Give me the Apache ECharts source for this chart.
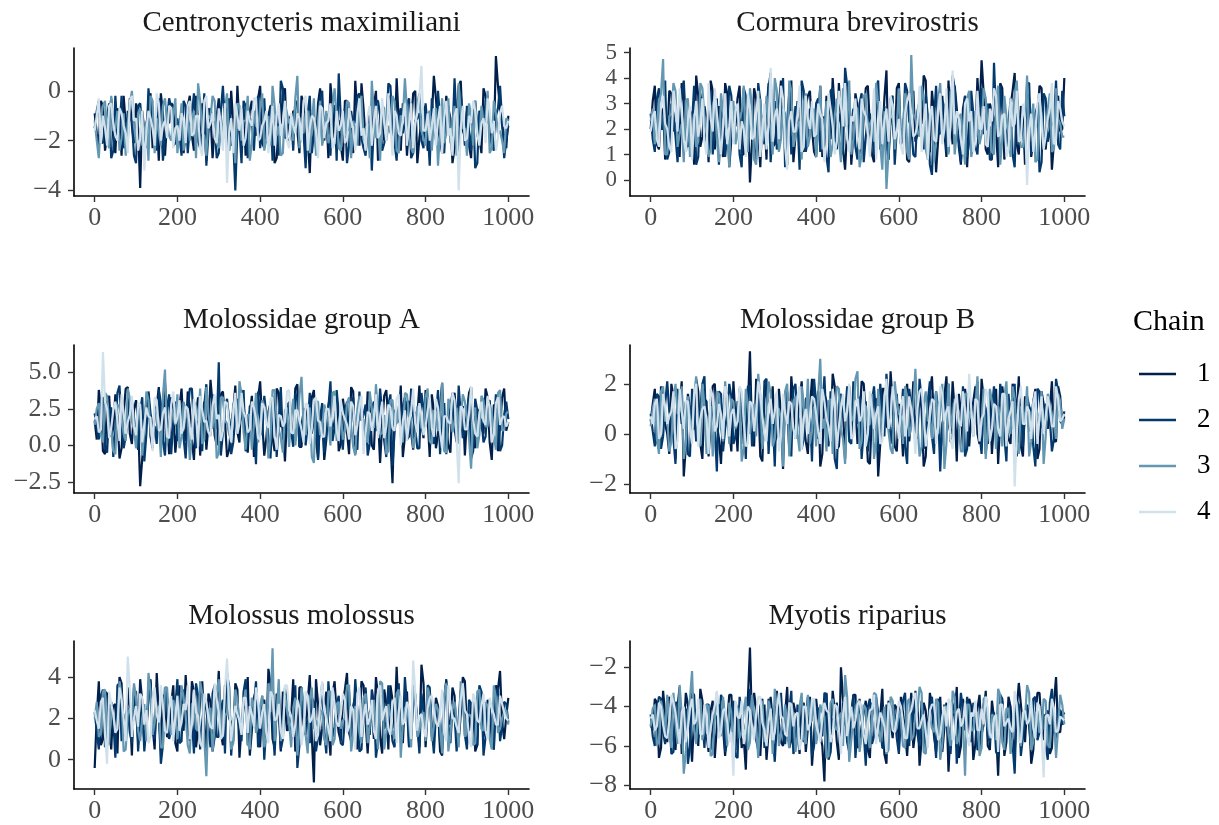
<!DOCTYPE html>
<html>
<head>
<meta charset="utf-8">
<script src="https://cdn.jsdelivr.net/npm/echarts@6/dist/echarts.min.js"></script>
<style>
  html, body { margin: 0; padding: 0; background: #ffffff; }
  #chart { width: 1219px; height: 825px; }
</style>
</head>
<body>
<div id="chart"></div>
<script>
// MCMC trace draws thinned to every 5th iteration.
// Arrays named <species><chain> hold iterations 0, 10, ..., 1000;
// arrays with a trailing "b" hold the iterations in between (5, 15, ..., 995).
const iterStep = 10;
const chainNames = ['1', '2', '3', '4'];
const xTicks = [0, 200, 400, 600, 800, 1000];

const speciesNames = [
  'Centronycteris maximiliani', 'Cormura brevirostris',
  'Molossidae group A', 'Molossidae group B',
  'Molossus molossus', 'Myotis riparius'
];

const yTicksCentronycteris = [-4, -2, 0];
const yTicksCormura = [0, 1, 2, 3, 4, 5];
const yTicksMolossidaeA = [-2.5, 0, 2.5, 5];
const yTicksMolossidaeB = [-2, 0, 2];
const yTicksMolossus = [0, 2, 4];
const yTicksMyotis = [-8, -6, -4, -2];

// Centronycteris maximiliani
const centronycteris1 = [
  -0.9,-2.2,-0.6,-1.8,-0.3,-2.5,-1.1,-0.2,-2.0,-1.4,-0.5,-3.9,-1.6,-0.4,-2.3,-1.0,-0.1,-2.6,-1.3,-0.6,
  -2.1,-0.8,-1.7,-0.2,-2.4,-1.2,-0.5,-2.8,-0.9,-1.5,-0.3,-2.0,-1.1,0.0,-2.6,-1.4,-0.7,-2.2,-0.4,-1.8,
  0.2,-2.3,-1.0,-0.6,-2.7,-1.3,0.1,-2.0,-0.8,-1.6,-0.2,-2.5,-3.3,-1.1,-0.5,-2.1,-0.9,0.3,-1.9,-1.2,
  -2.8,-0.4,-1.5,0.4,-2.2,-0.7,-1.3,-2.6,0.0,-1.0,-2.0,-0.3,-1.7,0.5,-2.4,-0.9,-1.4,-0.1,-2.9,-1.2,
  -0.6,-2.1,0.6,-1.5,-2.5,-0.2,-1.1,-2.3,0.2,-1.6,-0.8,-2.7,-0.4,-1.9,0.1,-1.3,-2.2,1.4,-0.7,-1.8,-1.0
];
const centronycteris1b = [
  -1.7,-0.4,-2.4,-1.0,-1.9,-0.7,-2.6,-1.3,-0.3,-2.1,-1.5,-0.8,-2.3,-0.1,-1.6,-2.8,-0.9,-1.2,-0.5,-2.0,
  -1.4,-2.5,-0.6,-1.8,-0.2,-2.2,-1.1,-0.7,-2.7,-1.0,-1.6,-0.4,-2.4,-1.3,0.2,-1.9,-2.6,-0.8,-1.5,-0.3,
  -2.1,-1.2,-0.6,-2.9,-1.4,-0.1,-2.0,-1.7,-0.9,-2.5,-0.5,-1.8,-1.0,-2.3,0.1,-1.5,-2.7,-0.7,-1.1,-2.2,
  -0.4,-1.6,-2.5,-0.9,0.3,-2.0,-1.3,-0.6,-2.8,-1.0,-1.7,-0.2,-2.3,-1.2,-0.5,-2.6,-1.4,0.0,-1.9,-0.8,
  -2.4,-1.1,-0.3,-2.0,-1.6,-0.7,-2.9,-1.3,0.4,-1.8,-2.2,-0.6,-1.5,-2.5,-0.2,-1.0,-2.1,0.2,-1.4,-2.3
];
const centronycteris2 = [
  -1.5,-0.4,-2.1,-1.0,-2.7,-0.2,-1.6,-2.3,-0.8,-1.2,-2.9,-0.5,-1.8,0.1,-1.4,-2.4,-0.9,-1.9,-0.3,-2.2,
  -1.1,-2.6,-0.6,-1.4,-0.1,-2.0,-1.7,-3.0,-0.7,-1.3,-2.5,0.2,-1.0,-2.2,-4.0,-1.5,-0.4,-2.7,-1.2,-0.8,
  -2.3,-0.3,-1.6,-2.8,-0.9,0.4,-1.9,-1.1,-2.4,-0.5,-1.4,-3.1,-0.2,-1.7,-2.0,0.0,-1.3,-2.6,-0.6,0.7,
  -1.8,-2.9,-0.8,-1.2,-0.1,-2.3,-1.5,-3.2,-0.4,-1.0,-2.1,0.3,-1.6,-2.8,-0.7,-1.3,-0.3,-2.5,-1.1,-2.0,
  -0.5,-3.0,-1.4,0.0,-2.2,-0.9,-1.7,0.5,-2.6,-1.2,-0.6,-2.4,-3.1,-0.8,-1.5,-0.2,-2.1,-1.0,0.2,-2.7,-1.4
];
const centronycteris2b = [
  -0.8,-2.0,-1.3,-0.5,-2.4,-1.7,-0.2,-1.9,-1.1,-2.6,-0.6,-1.4,-2.2,-0.9,-1.6,-0.3,-2.8,-1.2,-0.7,-2.1,
  -1.8,-0.4,-2.5,-1.0,-1.5,-2.3,-0.1,-1.7,-1.2,-2.7,-0.8,-1.4,-0.3,-2.0,-1.6,-2.9,-0.6,-1.1,-2.4,-0.2,
  -1.5,-2.1,-0.7,-1.3,-2.6,0.1,-1.8,-1.0,-0.4,-2.3,-1.7,-0.9,-2.5,-1.2,-0.3,-2.0,-1.5,-0.6,-2.8,-1.1,
  -0.7,-2.2,-1.4,-0.2,-1.9,-2.6,-0.8,-1.3,-0.4,-2.4,-1.6,0.2,-2.1,-1.0,-1.7,-0.5,-2.7,-1.2,-0.9,-2.3,
  -1.5,-0.3,-2.0,-1.1,-2.5,-0.6,-1.8,-1.3,-0.1,-2.2,-1.6,-0.8,-2.9,-1.0,-0.4,-1.9,-2.4,-0.7,-1.2,-2.0
];
const centronycteris3 = [
  -1.2,-2.7,-0.6,-1.9,-0.2,-1.5,-2.4,-0.9,-1.3,0.0,-2.1,-0.7,-1.6,-2.8,-0.4,-1.1,-2.2,-0.3,-1.8,-1.0,
  -2.5,-0.5,-1.4,-2.0,-0.8,0.3,-1.7,-2.6,-1.1,-0.4,-2.3,-1.5,-0.1,-1.9,-2.9,-0.6,-1.2,-0.2,-2.1,-1.4,
  -0.7,-2.4,-1.0,0.2,-1.8,-2.6,-0.5,-1.3,-2.0,0.6,-1.6,-0.9,-2.5,-0.3,-1.2,-2.2,-0.8,-1.7,0.1,-2.3,
  -1.1,-0.4,-2.7,-1.5,-0.6,-2.0,-1.3,0.4,-1.9,-2.8,-0.7,-1.4,-0.2,-2.4,-1.0,0.5,-1.8,-2.5,-0.5,-1.6,
  -2.2,-0.8,-1.2,-3.0,-0.3,-1.7,-2.1,-0.6,0.3,-1.5,-2.6,-1.0,-0.4,-2.0,-1.3,0.0,-2.3,-0.9,-1.6,-2.5,-1.2
];
const centronycteris3b = [
  -2.0,-1.1,-0.4,-2.3,-1.6,-0.8,-1.9,-2.6,-0.5,-1.4,-0.9,-2.2,-1.2,-0.2,-2.5,-1.7,-0.6,-1.3,-2.0,-0.3,
  -1.5,-2.4,-0.9,-1.1,-2.7,-0.4,-1.8,-1.0,-0.2,-2.1,-1.3,-0.7,-2.4,-1.6,-0.5,-2.0,-1.2,-2.8,-0.8,-1.5,
  -0.1,-1.9,-2.2,-0.6,-1.4,-2.5,-0.9,-1.1,-0.3,-2.3,-1.7,-0.8,-1.3,-2.6,-0.4,-1.6,-2.1,-0.7,-1.0,-2.4,
  -1.8,-0.5,-1.2,-2.2,-0.2,-1.5,-2.7,-0.9,-1.3,-0.6,-2.0,-1.7,-0.4,-2.5,-1.1,-0.8,-2.3,-1.4,-0.1,-1.9,
  -1.0,-2.4,-0.7,-1.6,-2.1,-0.3,-1.3,-2.6,-0.9,-1.5,-0.5,-2.2,-1.8,-0.6,-1.2,-2.5,-0.4,-1.7,-2.0,-1.1
];
const centronycteris4 = [
  -1.6,-0.3,-1.0,-2.2,-0.5,-1.8,-0.7,-1.4,-2.5,-0.2,-1.1,-1.9,-3.2,-0.8,-1.5,-0.1,-2.0,-1.2,-0.6,-2.3,
  -1.4,-0.9,-2.1,-0.4,-1.7,-1.0,-2.6,-0.2,-1.3,-1.9,-0.7,-2.4,-3.7,-1.1,-0.5,-1.6,-2.2,-0.8,-1.4,-0.3,
  -1.9,-1.2,-2.5,-0.6,-1.0,-1.8,-0.4,-2.3,-1.4,-0.9,-2.0,-0.2,-1.5,-1.1,-2.7,-0.7,-1.3,-0.5,-2.1,-1.6,
  -0.8,-1.9,-1.2,-2.4,-0.3,-1.5,-1.0,-2.2,-0.6,-1.7,-1.3,-0.1,-2.6,-1.0,-1.8,-0.5,-1.4,-2.3,-0.9,1.0,
  -1.6,-2.0,-0.7,-1.2,-2.5,-0.4,-1.5,-1.0,-4.0,-0.6,-1.9,-1.3,-0.8,-2.2,-1.1,-0.3,-1.7,-2.4,-0.9,-1.4,-1.2
];
const centronycteris4b = [
  -1.0,-2.1,-1.5,-0.6,-1.3,-2.0,-0.9,-1.7,-0.4,-1.2,-2.4,-0.8,-1.6,-1.1,-2.2,-0.5,-1.4,-1.9,-0.7,-1.5,
  -2.0,-1.2,-0.6,-1.8,-1.0,-2.3,-0.4,-1.5,-0.9,-2.1,-1.3,-0.5,-1.7,-2.5,-1.0,-0.7,-1.9,-1.2,-0.3,-2.0,
  -1.4,-0.8,-1.6,-2.2,-0.5,-1.3,-2.0,-0.9,-1.7,-1.1,-0.4,-2.4,-1.0,-1.6,-0.6,-1.9,-1.2,-2.3,-0.8,-1.4,
  -2.1,-0.7,-1.5,-0.9,-1.8,-2.4,-0.6,-1.2,-1.9,-0.3,-2.0,-1.4,-0.8,-1.7,-1.1,-2.2,-0.5,-1.3,-0.2,-1.6,
  -0.9,-1.4,-2.2,-0.6,-1.1,-1.8,-2.6,-0.7,-1.5,-2.0,-1.0,-0.4,-1.7,-1.3,-2.1,-0.8,-1.2,-1.9,-0.6,-1.5
];

// Cormura brevirostris
const cormura1 = [
  2.0,3.7,1.2,2.8,1.5,3.4,2.2,0.9,3.1,1.8,2.6,4.1,1.3,2.9,0.7,3.5,2.1,1.6,3.8,0.5,
  2.4,3.2,1.0,2.7,-0.1,3.6,1.9,2.5,0.8,4.2,1.4,3.0,2.2,0.6,3.9,1.7,2.8,1.1,3.3,2.0,
  0.9,3.7,1.5,2.6,4.0,1.2,2.3,0.4,3.4,1.8,2.9,1.0,3.6,2.1,0.7,3.1,1.6,4.3,2.4,1.3,
  3.8,2.0,0.8,3.2,1.5,2.7,4.1,1.1,3.5,0.3,2.5,1.9,3.9,1.4,2.8,0.6,3.3,2.2,1.7,4.0,
  4.7,1.2,3.0,2.4,0.5,3.6,1.8,2.9,4.2,1.0,2.6,3.4,0.9,2.1,3.7,1.5,2.3,0.4,3.1,1.9,4.0
];
const cormura1b = [
  3.1,1.4,2.6,0.8,3.5,1.9,2.3,3.8,1.1,2.7,0.6,3.3,1.7,2.4,3.9,1.2,2.9,0.9,3.4,1.6,
  2.1,3.7,1.0,2.8,1.5,3.2,0.5,2.5,3.6,1.3,2.2,3.9,1.8,2.6,0.7,3.1,1.4,2.9,3.5,1.1,
  2.4,0.9,3.3,1.6,2.7,3.8,1.2,2.0,0.6,3.4,1.9,2.5,3.7,1.0,2.8,1.5,3.2,0.8,2.3,3.6,
  1.4,2.9,0.7,3.5,1.8,2.2,3.9,1.1,2.6,1.6,3.3,0.9,2.4,3.7,1.3,2.8,0.5,3.1,1.7,2.5,
  3.4,1.0,2.7,1.9,3.8,0.8,2.2,3.5,1.4,2.9,0.6,3.2,1.8,2.4,3.6,1.2,2.7,1.5,3.3,2.0
];
const cormura2 = [
  2.6,1.1,3.6,2.0,0.8,3.0,1.7,2.5,3.9,1.3,2.2,0.6,3.4,1.9,2.7,1.0,3.2,2.4,0.9,3.7,
  1.5,2.8,0.5,3.3,2.1,1.2,3.8,1.8,2.6,0.7,3.1,1.4,4.0,2.3,1.0,2.9,0.4,3.5,1.6,2.4,
  3.0,1.1,2.5,0.3,3.6,1.9,2.2,4.4,1.3,2.8,0.8,3.4,1.7,2.6,1.0,3.9,2.0,1.4,3.2,0.6,
  2.7,1.6,3.5,2.1,0.9,3.1,1.2,2.5,0.2,3.7,1.8,2.9,1.1,4.1,2.3,0.7,3.3,1.5,2.6,1.0,
  3.6,2.0,0.8,4.6,1.7,2.8,1.3,3.2,0.5,2.4,1.9,3.8,1.0,2.6,0.3,3.4,1.5,2.2,3.9,1.2,2.5
];
const cormura2b = [
  1.6,3.2,2.0,3.9,1.1,2.6,0.7,3.4,2.2,1.5,3.7,0.9,2.8,1.3,3.5,2.1,0.6,2.9,1.8,3.3,
  2.5,1.0,3.6,1.7,2.3,0.8,3.1,1.4,3.8,2.0,1.2,2.7,0.5,3.4,1.9,2.4,3.9,1.1,2.8,1.6,
  3.2,2.2,0.9,3.5,1.5,2.6,1.0,3.7,2.1,1.3,3.0,0.7,2.5,1.8,3.6,1.2,2.9,0.8,3.3,2.0,
  1.4,3.8,2.3,1.0,2.7,1.7,3.4,0.6,2.4,1.9,3.1,1.1,2.8,3.6,1.5,2.2,0.9,3.5,1.3,2.6,
  1.8,3.0,0.8,2.5,3.7,1.6,2.1,1.0,3.3,2.4,1.2,3.8,1.7,2.9,0.7,3.2,1.9,2.3,1.4,3.5
];
const cormura3 = [
  2.3,1.4,3.0,4.75,1.0,2.6,3.5,1.8,0.7,3.2,2.0,1.3,3.8,2.5,0.9,2.9,1.6,3.4,2.2,0.5,
  3.1,1.9,2.7,1.2,3.6,0.8,2.4,1.5,3.3,2.0,4.0,1.1,2.8,0.6,3.5,1.7,2.3,3.0,1.3,2.6,
  0.9,3.7,1.8,2.5,1.4,3.2,0.7,2.1,3.9,1.6,2.8,1.0,3.4,2.2,1.5,3.0,0.4,-0.35,2.6,1.2,
  3.6,2.0,1.1,4.9,2.4,1.7,3.1,0.8,2.9,1.5,3.8,2.2,1.0,3.3,1.9,2.6,0.6,3.5,1.4,2.7,
  1.8,3.2,2.1,1.0,3.7,1.6,2.5,0.9,3.4,2.0,1.3,4.1,2.4,0.7,3.0,1.5,2.8,1.1,3.6,2.2,1.7
];
const cormura3b = [
  2.8,1.7,3.4,1.0,2.5,3.8,1.3,2.2,3.1,0.9,2.6,1.5,3.6,2.0,1.2,3.3,0.7,2.7,1.8,3.0,
  1.4,2.4,3.7,1.1,2.9,0.6,3.2,1.9,2.3,1.0,3.5,1.6,2.6,3.9,1.3,2.1,0.8,3.4,1.7,2.8,
  2.0,1.2,3.1,0.9,2.5,1.6,3.6,2.2,1.0,2.9,0.5,3.3,1.8,2.4,3.8,1.4,2.7,1.1,3.0,2.1,
  1.5,3.4,0.8,2.6,1.9,3.7,1.2,2.3,0.7,3.1,1.7,2.8,3.5,1.0,2.4,1.6,3.2,0.9,2.7,1.4,
  3.6,2.0,1.1,2.9,0.6,3.3,1.8,2.5,3.9,1.3,2.2,1.5,3.0,0.8,2.6,1.9,3.4,1.2,2.4,1.7
];
const cormura4 = [
  1.9,2.7,1.3,3.3,2.0,1.1,2.9,3.6,1.6,2.4,0.8,3.1,2.2,1.5,3.8,1.9,2.6,1.0,3.4,2.1,
  1.4,3.0,2.3,0.9,2.8,1.7,3.5,2.0,1.2,4.4,2.5,1.6,3.2,0.4,2.7,1.9,3.7,1.3,2.4,3.1,
  1.8,2.6,0.7,3.4,2.1,1.5,2.9,3.8,1.1,2.3,1.7,3.2,2.5,0.9,3.6,2.0,1.4,2.8,3.3,1.6,
  2.4,1.0,3.1,2.6,1.8,3.7,2.2,0.8,2.9,1.5,3.4,2.0,1.3,4.3,2.7,1.6,3.0,2.3,1.1,3.5,
  2.0,1.4,2.8,3.6,1.7,2.5,0.9,3.2,2.2,1.5,3.0,-0.2,2.6,1.9,3.4,1.2,2.4,3.8,1.6,2.8,2.1
];
const cormura4b = [
  2.5,1.6,3.0,2.2,1.3,3.5,1.9,2.6,1.1,2.9,2.3,1.7,3.2,1.0,2.4,3.6,1.8,2.1,1.4,3.1,
  2.7,1.2,2.0,3.4,1.6,2.5,0.9,3.0,2.2,1.5,2.8,3.7,1.3,2.3,1.9,2.6,1.1,3.3,2.0,1.7,
  3.0,2.4,1.4,2.8,1.0,3.5,2.1,1.6,2.5,3.2,1.2,2.7,1.8,2.2,0.8,3.1,2.3,1.5,2.9,1.9,
  1.3,2.6,3.4,1.7,2.2,1.1,3.0,2.5,1.6,2.8,1.4,3.6,2.1,1.8,2.4,1.0,3.2,2.7,1.5,2.0,
  2.9,1.3,2.3,3.3,1.8,2.6,1.2,2.1,3.5,1.6,2.4,2.0,1.1,3.0,2.2,1.7,2.8,1.4,3.1,2.3
];

// Molossidae group A
const molossidaeA1 = [
  1.7,3.8,-0.4,2.9,0.6,3.5,-0.9,2.2,4.0,0.1,3.1,-2.8,1.4,3.6,-0.2,2.7,0.9,4.3,-0.6,2.4,
  1.1,3.9,0.3,2.6,-1.0,3.3,1.8,-0.3,4.5,0.7,2.0,3.7,-0.8,1.5,4.1,0.2,2.8,-0.5,3.4,1.0,
  4.4,-0.7,2.3,0.5,3.9,1.3,-1.1,3.0,0.8,4.2,-0.1,2.5,1.6,3.8,-0.9,2.1,0.4,3.5,1.2,-0.4,
  3.2,0.9,4.0,-0.6,2.6,1.4,3.7,0.0,2.9,-1.2,3.4,1.7,-2.6,2.3,4.1,0.6,3.0,-0.3,2.0,1.5,
  3.8,-0.8,2.4,0.7,4.3,1.1,-0.5,3.6,0.3,2.7,1.9,4.0,-0.2,2.2,0.8,3.3,-1.0,2.5,1.3,3.9,1.6
];
const molossidaeA1b = [
  0.4,2.7,-0.6,3.4,1.2,2.0,-0.2,3.9,0.8,2.5,1.5,-0.9,3.1,0.6,2.3,4.0,0.2,1.8,3.3,-0.5,
  2.6,1.0,3.7,0.3,2.1,-0.7,3.0,1.4,2.8,0.0,3.5,1.7,-0.3,2.4,0.9,3.8,1.1,2.2,-0.8,3.2,
  1.6,0.5,2.9,-0.4,3.6,1.3,2.0,0.7,3.9,-0.1,2.5,1.0,3.3,0.4,1.9,-1.0,2.7,1.5,3.4,0.1,
  2.2,-0.6,3.7,1.1,2.6,0.6,3.1,-0.3,2.0,1.4,3.8,0.3,2.4,1.7,-0.8,3.0,0.9,2.3,4.1,0.5,
  1.8,3.5,-0.2,2.7,1.2,0.0,3.2,1.6,2.1,-0.7,3.6,0.8,2.5,1.3,3.9,0.2,2.8,-0.4,3.3,1.0
];
const molossidaeA2 = [
  2.2,0.4,3.3,-0.5,2.6,1.0,4.1,-0.2,1.8,3.0,0.6,2.4,-1.1,3.7,1.3,0.1,2.9,-0.7,3.5,1.6,
  0.3,2.8,-0.9,3.9,1.2,2.1,-0.4,4.2,0.7,2.5,5.7,0.9,3.2,-0.6,2.0,1.5,3.8,0.2,2.7,-1.3,
  1.9,3.4,0.5,2.3,-0.8,4.0,1.1,2.6,-0.1,3.1,1.4,0.0,3.6,1.8,-1.0,2.9,0.8,4.4,1.2,2.2,
  -0.3,3.0,1.6,0.4,3.7,2.1,-0.7,2.5,1.0,3.9,0.3,2.8,-1.4,2.4,1.7,3.3,0.6,2.0,-0.2,3.6,
  1.3,2.7,0.1,3.8,1.9,-0.6,2.6,1.1,4.1,0.5,2.3,-0.9,3.2,1.5,0.2,2.9,1.0,3.5,-0.4,2.1,1.8
];
const molossidaeA2b = [
  1.1,3.1,0.0,2.4,-0.8,3.6,1.5,0.6,2.9,1.9,-0.3,3.3,0.8,2.2,1.3,3.8,0.3,2.6,-0.6,3.0,
  1.7,0.5,2.3,3.9,-0.2,1.4,2.8,0.9,3.5,1.1,-0.7,2.5,1.8,0.2,3.2,2.0,-0.4,2.7,1.2,3.7,
  0.7,2.1,-0.9,3.4,1.6,0.4,2.9,1.0,3.6,-0.1,2.3,1.4,0.8,3.1,1.9,-0.5,2.6,0.3,3.8,1.2,
  2.4,0.6,3.3,-0.3,1.7,2.8,0.1,3.0,1.3,2.2,-0.8,3.5,0.9,1.6,2.7,0.4,3.9,1.1,-0.2,2.5,
  3.2,0.8,1.9,-0.6,2.9,1.5,3.6,0.2,2.1,1.0,3.4,-0.4,2.4,1.8,0.6,3.1,1.2,2.6,0.0,3.0
];
const molossidaeA3 = [
  1.4,2.9,0.2,3.4,1.1,-0.6,2.7,0.8,3.9,1.6,-0.2,2.3,1.0,3.1,0.4,2.6,-0.8,5.2,1.3,2.0,
  3.5,0.6,2.4,-1.0,3.0,1.7,0.1,4.0,1.2,2.8,-0.5,3.3,1.5,0.3,2.5,4.4,0.9,2.1,-0.3,3.6,
  1.0,2.7,-0.9,3.8,1.9,0.5,2.4,-0.1,3.2,1.4,4.7,0.7,2.6,-1.2,3.0,1.1,2.2,0.0,3.7,1.6,
  0.4,2.9,1.3,-0.7,3.4,1.8,0.2,2.5,4.2,0.8,2.1,-0.4,3.1,1.5,0.6,3.6,2.0,-0.2,2.7,1.2,
  3.3,0.3,2.4,1.0,4.3,-0.5,2.8,1.6,0.1,3.5,1.9,-1.6,2.6,0.7,3.1,1.3,2.2,-0.3,3.8,1.1,2.3
];
const molossidaeA3b = [
  2.5,0.7,3.6,1.3,-0.4,2.8,1.9,0.3,3.2,1.1,2.4,-0.7,3.7,0.9,2.0,1.6,3.4,0.1,2.6,1.4,
  -0.2,3.0,1.8,0.6,2.7,3.9,0.4,2.2,1.2,-0.9,3.3,1.7,0.8,2.9,1.0,3.5,-0.3,2.1,1.5,0.2,
  3.1,2.3,0.5,3.8,1.1,-0.5,2.6,1.9,0.0,3.4,1.3,2.0,-0.8,3.0,0.7,2.8,1.6,3.6,0.3,2.2,
  1.0,3.3,-0.1,2.5,1.8,0.4,3.7,1.2,2.1,0.8,-0.6,3.1,1.5,2.7,0.2,3.5,1.9,0.6,2.4,1.1,
  3.9,0.1,2.3,1.4,-0.4,3.2,0.9,2.6,1.7,3.0,0.5,2.0,-0.2,3.4,1.3,2.8,0.7,3.6,1.0,2.2
];
const molossidaeA4 = [
  1.8,0.9,6.4,2.5,1.2,3.0,0.3,2.2,1.6,3.4,0.7,2.8,1.4,2.0,-0.4,3.1,1.1,2.6,0.5,3.7,
  1.9,0.8,2.7,1.3,3.2,-0.1,2.4,1.7,0.6,3.5,2.1,1.0,2.9,0.2,3.6,1.5,2.3,0.9,3.0,1.8,
  0.4,2.6,1.2,3.3,-0.3,2.0,1.6,3.8,0.8,2.4,1.1,2.9,0.1,3.1,1.7,0.6,2.5,1.3,3.4,0.3,
  2.2,1.4,3.0,0.7,2.7,-0.6,2.3,1.0,3.5,1.9,0.5,2.8,1.2,3.2,0.0,2.4,1.6,3.9,0.9,2.1,
  1.3,3.3,0.6,2.6,-0.2,2.0,1.5,3.1,-2.6,2.5,1.1,4.0,0.8,2.2,1.7,3.4,0.2,2.9,1.4,2.0,1.6
];
const molossidaeA4b = [
  2.0,1.1,3.0,0.5,2.4,1.7,3.5,0.8,2.1,1.3,2.9,0.2,2.6,1.9,3.3,1.0,2.2,0.6,2.8,1.5,
  3.1,1.2,2.5,0.4,2.0,3.4,1.6,0.9,2.7,1.8,0.3,3.0,1.4,2.3,0.8,3.6,1.9,1.1,2.6,0.5,
  2.9,1.5,3.2,0.7,2.1,1.3,3.7,0.9,2.4,1.7,0.2,2.8,1.2,3.3,1.6,0.6,2.5,2.0,1.0,3.1,
  1.8,0.4,2.7,1.4,3.4,0.8,2.2,1.9,0.5,3.0,1.3,2.6,1.0,3.5,1.7,0.3,2.3,1.5,2.9,0.7,
  2.4,1.2,3.2,0.9,2.0,1.6,3.6,0.4,2.7,1.1,2.2,1.8,0.6,3.0,1.4,2.5,0.8,3.3,1.9,1.3
];

// Molossidae group B
const molossidaeB1 = [
  0.5,1.8,-0.6,1.3,0.0,2.0,-1.0,1.1,-1.7,1.6,0.2,2.2,-0.4,1.4,-0.9,1.9,0.4,-1.2,1.7,0.1,
  2.1,-0.7,1.2,0.3,3.3,-0.5,1.5,-1.1,2.0,0.6,-0.3,1.8,-1.4,1.0,2.3,-0.2,1.3,0.4,-0.8,2.2,
  0.9,-1.3,1.6,0.2,2.4,-0.6,1.1,-1.0,1.9,0.5,-0.4,2.1,0.7,-1.2,1.4,-1.7,1.8,0.3,2.5,-0.5,
  1.2,-0.9,2.0,0.6,-0.3,1.7,-1.3,1.0,2.3,0.1,-0.7,1.5,0.4,2.1,-1.1,0.9,1.8,-0.5,1.3,0.0,
  2.2,-0.8,1.4,0.5,-1.2,1.9,0.3,-0.4,1.6,2.3,-0.9,1.0,0.6,1.8,-0.6,1.2,0.2,2.1,-0.3,1.5,0.7
];
const molossidaeB1b = [
  1.2,-0.3,1.9,0.4,-0.8,1.5,0.7,2.1,-0.5,1.0,0.2,1.7,-1.0,1.3,0.5,2.0,-0.2,0.9,1.6,-0.7,
  0.6,1.8,-0.4,1.1,0.0,2.2,-0.9,1.4,0.3,1.9,-0.1,0.8,1.5,-0.6,1.2,0.4,2.1,-0.3,1.0,0.7,
  1.7,-0.8,1.3,0.1,1.9,-0.5,0.9,1.6,-0.2,1.1,0.5,2.0,-1.1,0.8,1.4,-0.4,1.8,0.2,1.2,-0.7,
  0.6,1.5,-0.3,2.1,0.3,1.0,-0.9,1.7,0.4,1.3,-0.1,2.3,0.0,0.9,1.6,-0.6,1.1,0.7,1.9,-0.4,
  1.4,0.2,-0.8,1.8,0.5,1.2,-0.2,2.0,0.8,-0.5,1.5,0.1,1.3,-1.0,1.7,0.6,1.0,-0.3,1.9,0.4
];
const molossidaeB2 = [
  0.8,-0.5,1.5,-0.1,2.1,0.4,-1.2,1.2,0.7,-0.8,1.8,-0.3,1.0,2.3,-0.7,0.9,-1.5,1.6,0.2,2.0,
  -0.4,1.3,0.5,-1.0,1.9,0.0,1.4,-0.6,2.2,0.8,-1.3,1.1,0.3,1.7,-0.9,2.0,0.6,-0.2,1.5,-1.1,
  1.2,0.1,2.3,-0.5,1.0,-1.4,1.6,0.7,-0.3,2.1,0.4,-1.0,1.3,0.2,1.9,-0.7,0.9,2.4,-0.4,1.4,
  0.0,1.8,-1.2,1.1,0.5,2.2,-0.6,1.3,-0.1,1.7,-1.5,0.8,2.0,-0.4,1.2,0.3,-0.9,1.6,0.6,2.1,
  -0.8,1.0,0.4,1.9,-0.3,1.4,-1.1,0.7,2.0,0.1,-0.5,1.5,0.9,-1.3,1.7,0.2,1.1,-0.7,2.2,0.5,0.9
];
const molossidaeB2b = [
  0.1,1.6,-0.6,1.2,0.9,-0.2,1.8,0.4,1.3,-0.9,1.0,0.6,2.0,-0.4,1.4,0.2,1.7,-0.7,0.8,1.5,
  -0.1,1.1,0.5,1.9,-0.5,1.3,0.3,2.1,-0.8,0.7,1.6,-0.3,1.2,0.0,1.8,0.6,-0.6,1.4,0.9,2.2,
  -0.2,1.0,0.4,1.7,-1.0,1.2,0.7,1.9,-0.4,0.8,1.5,0.2,-0.7,1.3,0.5,2.0,-0.1,1.1,0.3,1.6,
  0.6,-0.5,1.8,0.9,-0.2,1.4,0.1,2.1,-0.8,1.0,0.4,1.7,-0.3,1.2,0.7,1.9,-0.6,0.8,1.5,0.0,
  1.3,-0.4,1.0,0.5,2.0,-0.1,1.6,0.2,-0.9,1.4,0.8,1.1,-0.5,1.8,0.3,1.2,0.6,-0.2,1.7,0.4
];
const molossidaeB3 = [
  0.3,1.4,-0.8,1.9,0.6,-0.3,2.0,0.9,-1.0,1.5,0.1,2.3,-0.5,1.1,0.7,-0.9,1.7,0.2,2.1,-0.4,
  1.3,0.5,-1.1,1.8,0.0,1.2,2.4,-0.6,0.8,1.6,-0.2,1.0,-1.3,2.0,0.4,1.5,-0.7,0.9,2.2,0.1,
  -0.5,3.0,0.6,1.3,-0.8,1.9,0.2,-1.2,1.6,0.7,2.5,-0.3,1.1,0.4,-1.0,1.8,0.0,1.4,-0.6,2.1,
  0.8,-0.4,1.5,0.3,2.6,-0.9,1.2,0.5,-0.2,1.7,0.9,-1.4,2.0,0.2,1.3,-0.7,1.6,0.6,-0.1,2.3,
  0.4,-1.0,1.8,0.7,1.1,-0.5,2.1,0.0,1.4,-0.8,0.9,1.9,-0.3,1.2,0.5,-1.2,1.6,0.8,-0.2,1.3,0.6
];
const molossidaeB3b = [
  1.0,-0.2,1.7,0.5,-0.7,1.3,0.8,1.9,-0.4,0.6,1.5,0.1,2.0,-0.8,1.1,0.4,1.6,-0.3,0.9,1.4,
  0.2,1.8,-0.6,1.2,0.7,-0.1,1.5,0.3,2.1,-0.5,1.0,0.6,1.7,-0.9,1.3,0.0,1.9,0.4,-0.4,1.1,
  1.6,0.2,-0.7,1.4,0.8,1.8,-0.2,1.0,0.5,2.2,-0.6,1.2,0.3,1.6,-0.3,0.9,1.5,0.1,-0.8,1.3,
  0.7,1.9,-0.1,1.1,0.4,-0.5,1.7,0.6,1.2,0.0,2.0,-0.4,0.8,1.4,0.2,-0.7,1.6,0.9,1.0,-0.2,
  1.8,0.3,1.3,-0.6,0.7,1.5,0.1,1.9,-0.3,1.1,0.5,-0.9,1.4,0.8,1.7,-0.1,1.2,0.4,1.6,0.2
];
const molossidaeB4 = [
  0.7,1.2,-0.2,1.6,0.4,0.9,-0.6,1.8,0.2,1.3,-0.4,2.0,0.6,1.1,-0.8,1.5,0.3,0.8,1.9,-0.1,
  1.0,0.5,1.7,-0.5,1.3,0.1,2.1,0.7,-0.3,1.4,0.9,-0.7,1.6,0.4,1.2,-0.2,1.9,0.6,0.0,1.5,
  0.8,-0.4,1.3,0.3,1.8,-0.6,1.0,0.5,2.0,-0.1,1.4,0.7,-0.5,1.7,0.2,1.1,-0.3,2.2,0.6,1.2,
  -0.2,1.5,0.4,1.0,-0.8,1.7,0.8,0.1,1.4,-0.4,1.9,0.5,1.1,-0.6,1.6,0.3,0.9,2.4,-0.1,1.3,
  0.6,1.8,-0.3,1.2,0.2,1.6,-0.5,0.9,-2.1,1.4,0.4,1.1,-0.2,1.7,0.7,0.0,1.5,0.3,1.9,0.5,0.8
];
const molossidaeB4b = [
  0.4,1.4,0.0,1.1,0.7,1.7,-0.3,0.9,1.3,0.2,1.6,-0.5,1.0,0.6,1.8,0.1,1.2,-0.2,1.5,0.8,
  0.3,1.9,0.5,-0.4,1.2,0.9,1.6,0.0,1.1,0.4,1.7,-0.1,0.8,1.3,0.2,1.5,-0.6,1.0,0.7,1.4,
  0.1,1.8,0.6,-0.3,1.2,0.3,1.6,0.9,-0.2,1.3,0.5,1.7,0.0,1.0,0.8,-0.4,1.4,0.2,1.9,0.6,
  1.1,-0.1,1.5,0.4,1.0,1.8,-0.5,0.7,1.3,0.3,1.6,0.9,-0.2,1.2,0.5,1.7,0.1,1.0,1.4,-0.3,
  0.8,1.5,0.2,1.1,-0.1,1.6,0.6,1.3,0.0,1.9,0.4,0.9,1.2,-0.4,1.5,0.7,1.0,0.3,1.4,0.6
];

// Molossus molossus
const molossus1 = [
  -0.4,3.8,1.0,3.2,0.5,2.7,4.0,1.3,3.5,0.2,2.4,3.9,0.8,2.9,1.6,4.2,0.6,3.1,1.2,3.6,
  0.4,2.6,4.1,0.9,3.3,1.5,3.8,0.3,2.8,1.1,4.3,0.7,3.0,1.8,3.7,0.1,2.5,4.0,1.4,3.4,
  0.6,2.9,4.4,1.0,3.2,0.4,2.6,1.7,3.9,0.8,3.5,1.2,4.1,-1.1,2.7,1.5,3.3,0.2,3.8,1.3,
  2.8,4.2,0.9,3.1,1.6,3.6,0.3,2.5,4.0,1.1,3.4,0.5,2.9,4.5,1.4,3.0,0.7,3.7,1.9,4.6,
  0.6,3.2,1.3,2.6,0.2,3.9,1.7,3.1,0.9,4.0,1.5,2.7,0.4,3.5,1.1,2.9,0.8,3.6,4.3,1.0,3.0
];
const molossus1b = [
  2.1,0.7,3.3,1.6,2.6,0.3,3.7,1.2,2.4,3.5,0.9,2.8,1.5,3.9,0.5,2.2,3.1,1.1,2.7,0.8,
  3.6,1.4,2.3,3.8,0.6,2.9,1.8,3.2,0.4,2.5,1.3,3.6,2.0,0.9,3.4,1.6,2.6,0.2,3.0,1.9,
  2.7,1.0,3.7,0.6,2.4,3.3,1.4,2.1,0.4,3.5,1.7,2.8,1.1,3.9,0.7,2.5,1.5,3.2,2.2,0.9,
  3.4,1.3,2.6,0.5,3.8,1.8,2.3,1.0,3.1,0.3,2.7,3.6,1.5,2.0,0.8,3.3,1.2,2.9,0.6,3.7,
  2.4,1.1,3.0,0.4,2.6,1.9,3.5,0.9,2.2,3.8,1.4,2.8,0.7,3.2,1.6,2.5,0.5,3.4,1.8,2.1
];
const molossus2 = [
  2.3,0.5,3.4,1.2,2.8,0.1,3.7,1.6,2.5,0.8,3.3,1.9,0.4,3.0,1.4,2.6,-0.2,3.5,1.0,2.2,
  3.9,0.9,2.7,1.3,0.3,3.1,1.8,2.4,0.6,3.6,1.1,2.9,4.2,0.2,2.5,1.5,3.3,0.7,2.1,3.8,
  1.2,0.0,3.0,1.7,2.6,0.5,3.5,1.4,2.2,-0.4,3.2,1.9,0.8,2.8,1.1,3.7,0.3,2.4,1.6,3.1,
  0.7,2.7,1.3,3.9,0.4,2.3,1.8,3.4,0.1,2.9,1.5,3.6,0.9,2.5,1.2,4.0,0.6,2.8,1.7,3.2,
  1.0,3.5,0.3,2.6,1.4,3.8,0.8,2.2,1.9,3.3,0.5,2.7,1.1,3.6,0.2,2.4,1.6,3.1,0.9,2.8,1.8
];
const molossus2b = [
  1.4,3.1,0.6,2.5,1.9,3.6,0.9,2.2,1.3,3.3,0.4,2.7,1.7,3.8,1.0,2.3,0.7,3.0,1.5,2.6,
  0.8,3.4,1.2,2.0,3.7,0.5,2.8,1.6,3.2,1.1,2.4,0.3,3.5,1.8,2.1,0.9,3.9,1.4,2.6,0.6,
  3.1,1.7,2.3,0.2,3.4,1.0,2.9,1.5,3.6,0.7,2.2,1.9,3.0,0.4,2.5,1.3,3.8,1.1,2.7,0.8,
  2.0,3.3,1.6,2.4,0.5,3.5,1.2,2.8,0.9,3.1,1.8,2.1,0.6,3.7,1.4,2.6,1.0,3.2,0.3,2.3,
  3.6,1.5,2.2,0.8,3.0,1.7,2.5,0.4,3.4,1.2,2.9,1.9,0.7,3.3,1.1,2.4,0.5,3.5,1.6,2.7
];
const molossus3 = [
  2.0,1.1,3.3,0.7,2.6,1.5,3.8,0.4,2.2,1.8,3.0,0.9,2.7,4.2,1.2,2.4,0.6,3.5,1.7,2.9,
  1.0,3.6,2.1,0.3,2.8,1.4,3.2,-0.8,2.5,1.6,3.9,1.1,2.3,0.5,3.4,1.9,2.7,0.8,3.0,1.3,
  2.6,0.6,3.7,5.4,2.2,0.9,3.1,1.8,2.5,0.2,3.5,1.2,2.9,1.5,1.6,2.4,0.7,3.3,1.0,2.8,
  1.9,3.6,0.4,2.6,1.3,3.0,0.8,2.3,1.7,3.8,0.5,2.7,1.4,3.2,0.1,2.5,1.8,3.5,1.1,2.2,
  0.9,3.1,1.6,2.4,0.3,3.7,1.2,2.8,0.6,3.3,1.9,2.1,0.8,3.4,1.4,2.6,0.5,3.0,1.5,2.3,1.7
];
const molossus3b = [
  2.8,1.3,3.4,0.8,2.2,1.7,3.1,0.5,2.5,3.7,1.4,2.0,0.9,3.3,1.8,2.6,0.6,3.5,1.2,2.3,
  1.9,3.0,0.7,2.7,1.5,3.8,1.0,2.4,0.4,3.2,1.7,2.1,3.6,0.8,2.9,1.3,3.4,0.5,2.6,1.6,
  3.1,1.1,2.3,0.9,3.9,1.6,2.5,0.6,3.0,1.4,2.8,0.3,3.5,1.9,2.2,1.0,3.3,0.7,2.7,1.5,
  2.0,3.6,1.2,2.4,0.8,3.2,1.7,2.9,0.5,3.7,1.3,2.1,1.0,3.4,1.8,2.6,0.6,3.0,1.4,2.3,
  3.5,0.9,2.7,1.6,3.1,0.4,2.5,1.9,3.8,1.1,2.2,0.7,3.3,1.5,2.8,1.0,3.6,1.3,2.0,2.4
];
const molossus4 = [
  2.4,1.5,3.0,-0.2,2.7,1.3,3.5,2.0,5.0,1.1,2.6,3.2,1.7,0.8,2.9,2.2,3.6,1.4,2.5,0.9,
  3.1,1.8,2.4,1.0,3.4,2.1,0.6,2.8,1.6,3.7,2.3,1.2,4.9,0.9,2.6,1.9,3.0,1.3,2.2,3.5,
  1.5,2.7,0.8,3.1,2.0,1.4,3.6,2.4,1.1,2.9,0.7,3.3,1.8,2.5,1.2,3.8,2.0,0.9,2.7,1.6,
  3.2,1.3,2.6,0.5,3.5,2.1,1.7,2.9,1.0,3.6,2.3,1.5,2.8,0.8,3.1,1.9,2.5,4.8,1.4,2.2,
  1.1,3.0,2.4,1.6,3.4,0.9,2.7,2.0,1.3,3.7,2.2,0.6,2.9,1.8,3.2,1.0,2.5,1.7,3.1,2.3,1.9
];
const molossus4b = [
  1.9,2.8,1.2,3.3,2.2,1.5,2.9,0.9,3.4,2.0,1.6,3.0,2.4,1.1,3.5,1.8,2.6,1.3,3.1,2.1,
  1.4,2.7,3.6,1.7,2.3,0.8,3.2,2.0,1.5,2.9,1.0,3.4,2.5,1.9,2.2,1.2,3.0,2.6,1.6,2.8,
  2.3,1.3,3.3,1.9,2.7,1.0,3.6,2.1,1.7,2.5,1.4,3.1,2.0,0.9,2.8,2.4,1.5,3.5,1.8,2.2,
  2.9,1.6,2.4,3.2,1.1,2.7,2.0,1.4,3.4,1.9,2.6,1.2,3.0,2.3,1.7,2.8,1.0,3.3,2.1,1.5,
  2.5,3.1,1.8,2.2,1.3,3.6,2.0,1.6,2.9,2.4,1.1,3.2,1.9,2.6,1.4,3.0,2.2,1.7,2.7,2.0
];

// Myotis riparius
const myotis1 = [
  -4.9,-3.6,-6.6,-3.2,-5.8,-4.1,-6.2,-3.0,-5.3,-3.9,-6.8,-4.5,-3.1,-5.6,-6.3,-3.7,-5.0,-4.2,-6.5,-3.4,
  -5.5,-4.0,-6.1,-7.2,-1.0,-3.3,-5.9,-4.4,-6.7,-3.5,-5.2,-4.8,-6.0,-3.0,-5.7,-4.3,-6.4,-3.8,-5.1,-7.0,
  -3.6,-5.4,-7.8,-6.2,-3.2,-5.8,-2.0,-4.9,-4.6,-3.4,-6.1,-5.0,-3.7,-6.6,-4.2,-5.5,-3.1,-6.9,-4.7,-3.9,
  -5.9,-4.3,-6.5,-3.3,-5.2,-7.0,-3.8,-5.6,-4.0,-6.3,-3.5,-5.1,-7.3,-4.4,-3.0,-6.0,-4.9,-3.6,-6.7,-4.1,
  -5.4,-3.2,-6.2,-4.6,-7.5,-3.7,-5.8,-4.0,-6.4,-2.8,-5.0,-3.9,-6.9,-4.5,-3.3,-5.7,-4.2,-6.1,-2.5,-5.3,-4.4
];
const myotis1b = [
  -5.2,-3.8,-6.1,-4.4,-3.5,-5.7,-4.0,-6.4,-3.3,-5.0,-4.6,-6.0,-3.7,-5.4,-4.2,-6.6,-3.9,-5.1,-4.8,-3.4,
  -6.2,-4.3,-5.6,-3.6,-5.0,-4.1,-6.5,-3.9,-5.3,-4.7,-3.2,-5.8,-4.4,-6.1,-3.8,-5.2,-4.0,-6.3,-3.5,-5.5,
  -4.6,-6.0,-3.3,-5.4,-4.2,-6.7,-3.6,-5.1,-4.8,-3.4,-5.9,-4.3,-6.2,-3.8,-5.0,-4.5,-6.4,-3.7,-5.6,-4.1,
  -3.5,-5.3,-4.7,-6.1,-3.9,-5.7,-4.2,-3.3,-5.5,-4.6,-6.3,-3.8,-5.1,-4.4,-6.6,-3.6,-5.4,-4.0,-5.9,-3.4,
  -4.9,-6.0,-3.7,-5.2,-4.3,-6.5,-3.5,-5.6,-4.1,-3.9,-5.8,-4.6,-6.2,-3.3,-5.0,-4.4,-6.4,-3.8,-5.3,-4.2
];
const myotis2 = [
  -4.4,-6.0,-3.5,-5.3,-4.0,-6.4,-3.8,-5.1,-4.7,-6.9,-3.3,-5.6,-4.2,-6.1,-3.9,-5.0,-4.6,-3.4,-6.3,-5.2,
  -3.7,-6.6,-4.3,-5.5,-3.1,-4.8,-6.2,-3.6,-5.7,-4.1,-6.8,-3.9,-5.3,-4.5,-3.2,-6.0,-4.9,-5.8,-3.5,-6.5,
  -4.0,-5.4,-3.3,-6.7,-4.6,-3.8,-5.9,-4.2,-6.3,-3.4,-5.1,-4.7,-7.0,-3.6,-5.5,-4.3,-6.1,-3.9,-5.0,-4.4,
  -6.4,-3.7,-5.6,-4.1,-3.2,-6.0,-4.8,-5.3,-3.5,-6.6,-4.5,-3.9,-5.7,-4.2,-6.9,-3.3,-5.2,-4.6,-3.8,-6.2,
  -4.9,-3.4,-5.8,-4.3,-6.5,-3.6,-5.0,-4.7,-7.4,-3.9,-5.5,-4.0,-6.1,-3.5,-5.3,-4.4,-6.7,-3.1,-5.6,-4.2,-4.8
];
const myotis2b = [
  -5.5,-4.2,-3.6,-5.9,-4.5,-6.3,-3.8,-5.0,-4.1,-6.0,-3.4,-5.6,-4.7,-3.9,-6.2,-4.4,-5.3,-3.7,-5.8,-4.3,
  -6.5,-3.5,-5.1,-4.6,-3.8,-5.7,-4.0,-6.1,-3.6,-5.4,-4.8,-3.3,-5.9,-4.2,-6.4,-3.9,-5.2,-4.5,-3.7,-6.0,
  -4.1,-5.5,-3.4,-6.3,-4.7,-5.0,-3.8,-5.8,-4.3,-6.6,-3.6,-5.3,-4.0,-5.9,-3.5,-4.9,-6.1,-4.4,-3.9,-5.6,
  -4.6,-3.3,-6.0,-4.8,-5.4,-3.7,-6.2,-4.1,-5.1,-3.6,-5.7,-4.5,-6.4,-3.8,-5.0,-4.2,-3.5,-5.8,-4.7,-6.1,
  -3.9,-5.5,-4.3,-6.3,-3.4,-5.2,-4.0,-5.9,-3.7,-6.5,-4.6,-5.0,-3.6,-5.7,-4.4,-6.0,-3.8,-5.3,-4.1,-4.9
];
const myotis3 = [
  -5.0,-3.9,-5.7,-4.3,-3.4,-6.1,-4.8,-2.9,-7.4,-4.5,-2.2,-5.9,-3.6,-5.2,-4.0,-6.4,-3.3,-5.5,-4.6,-3.8,
  -6.2,-4.1,-5.3,-3.5,-5.8,-4.4,-6.6,-3.7,-5.0,-4.2,-3.1,-6.0,-4.9,-5.4,-3.8,-6.3,-4.0,-5.6,-3.4,-4.7,
  -5.9,-3.9,-4.5,-6.5,-3.6,-5.2,-4.3,-2.4,-6.8,-4.6,-3.7,-5.5,-4.1,-6.1,-3.3,-5.0,-4.8,-6.4,-3.5,-5.3,
  -4.2,-6.0,-3.8,-5.7,-4.4,-3.0,-6.3,-4.9,-5.1,-3.6,-6.7,-4.0,-5.4,-3.2,-5.9,-4.6,-7.5,-3.9,-5.2,-4.3,
  -6.1,-3.5,-5.6,-4.5,-3.1,-5.8,-4.1,-6.4,-3.7,-5.0,-4.7,-2.9,-6.2,-4.4,-5.3,-3.6,-5.9,-4.0,-6.6,-3.4,-4.9
];
const myotis3b = [
  -4.1,-6.0,-3.7,-5.4,-4.8,-3.3,-5.9,-4.4,-6.3,-3.6,-5.2,-4.0,-5.7,-3.9,-6.5,-4.6,-5.1,-3.5,-6.0,-4.3,
  -3.8,-5.6,-4.2,-6.2,-3.4,-5.0,-4.7,-5.8,-3.7,-6.4,-4.1,-5.3,-3.9,-6.1,-4.5,-5.5,-3.3,-5.9,-4.8,-3.6,
  -5.2,-4.3,-6.6,-3.8,-5.0,-4.6,-6.0,-3.5,-5.7,-4.1,-6.3,-3.9,-5.4,-4.4,-3.4,-5.8,-4.0,-6.2,-3.7,-5.1,
  -4.7,-6.1,-3.6,-5.5,-4.2,-3.3,-6.4,-4.5,-5.3,-3.8,-5.9,-4.0,-6.0,-3.5,-5.6,-4.8,-3.9,-5.2,-4.3,-6.5,
  -3.6,-5.0,-4.4,-5.7,-3.4,-6.2,-4.1,-5.5,-3.8,-6.0,-4.6,-3.3,-5.8,-4.2,-5.3,-3.7,-6.1,-4.5,-5.1,-3.9
];
const myotis4 = [
  -4.6,-5.2,-3.8,-4.9,-5.6,-3.4,-4.3,-5.9,-4.0,-5.1,-3.6,-4.7,-5.4,-3.9,-6.1,-4.4,-3.2,-5.3,-4.1,-5.8,
  -7.5,-4.5,-3.7,-5.0,-4.2,-5.7,-3.5,-4.8,-6.0,-4.1,-5.3,-3.3,-4.6,-5.5,-3.9,-4.4,-6.2,-4.0,-5.2,-3.6,
  -4.9,-5.8,-3.8,-4.3,-5.4,-4.0,-6.4,-3.5,-4.7,-5.1,-3.9,-4.5,-5.9,-4.2,-3.4,-5.0,-4.6,-6.3,-4.1,-5.3,
  -3.7,-4.8,-5.6,-4.2,-3.3,-5.1,-4.4,-6.1,-3.9,-4.9,-5.5,-4.0,-3.6,-5.7,-4.3,-5.0,-3.8,-6.0,-4.5,-5.2,
  -4.1,-3.5,-5.4,-4.6,-6.3,-3.9,-4.8,-5.1,-3.2,-5.8,-4.3,-4.9,-3.7,-5.6,-4.0,-7.6,-4.4,-3.6,-5.3,-4.5,-4.7
];
const myotis4b = [
  -4.4,-5.0,-4.0,-5.5,-4.7,-3.8,-5.2,-4.3,-5.8,-4.1,-4.9,-3.6,-5.4,-4.5,-5.1,-3.9,-5.6,-4.2,-4.8,-5.3,
  -3.7,-4.6,-5.9,-4.0,-5.0,-4.4,-3.5,-5.2,-4.8,-5.7,-4.1,-4.5,-5.4,-3.8,-5.0,-4.3,-5.6,-4.0,-4.9,-3.6,
  -5.3,-4.6,-4.2,-5.8,-3.9,-5.1,-4.4,-5.5,-4.0,-4.7,-3.7,-5.4,-4.8,-4.1,-5.9,-4.3,-5.0,-3.8,-5.2,-4.6,
  -4.0,-5.6,-4.4,-3.6,-5.1,-4.7,-5.3,-4.2,-3.9,-5.7,-4.5,-5.0,-3.8,-5.4,-4.1,-4.8,-5.5,-4.3,-3.7,-5.2,
  -4.9,-4.1,-5.6,-4.4,-3.9,-5.0,-4.6,-5.3,-4.0,-5.8,-4.2,-4.7,-5.1,-3.8,-5.4,-4.5,-4.9,-4.1,-5.2,-4.6
];

// ---- panel wiring ----
const chainColors = ['#011f4b', '#03396c', '#6497b1', '#d1e1ec'];
const fontFamily = "'Liberation Serif', 'DejaVu Serif', serif";

const panels = [
  { name: speciesNames[0], ticks: yTicksCentronycteris, min: -4.22, max: 1.72, digits: 0, labelSize: 26,
    chains: [[centronycteris1, centronycteris1b], [centronycteris2, centronycteris2b], [centronycteris3, centronycteris3b], [centronycteris4, centronycteris4b]] },
  { name: speciesNames[1], ticks: yTicksCormura, min: -0.63, max: 5.18, digits: 0, labelSize: 23,
    chains: [[cormura1, cormura1b], [cormura2, cormura2b], [cormura3, cormura3b], [cormura4, cormura4b]] },
  { name: speciesNames[2], ticks: yTicksMolossidaeA, min: -3.27, max: 6.89, digits: 1, labelSize: 26,
    chains: [[molossidaeA1, molossidaeA1b], [molossidaeA2, molossidaeA2b], [molossidaeA3, molossidaeA3b], [molossidaeA4, molossidaeA4b]] },
  { name: speciesNames[3], ticks: yTicksMolossidaeB, min: -2.36, max: 3.55, digits: 0, labelSize: 26,
    chains: [[molossidaeB1, molossidaeB1b], [molossidaeB2, molossidaeB2b], [molossidaeB3, molossidaeB3b], [molossidaeB4, molossidaeB4b]] },
  { name: speciesNames[4], ticks: yTicksMolossus, min: -1.42, max: 5.75, digits: 0, labelSize: 26,
    chains: [[molossus1, molossus1b], [molossus2, molossus2b], [molossus3, molossus3b], [molossus4, molossus4b]] },
  { name: speciesNames[5], ticks: yTicksMyotis, min: -8.18, max: -0.67, digits: 0, labelSize: 26,
    chains: [[myotis1, myotis1b], [myotis2, myotis2b], [myotis3, myotis3b], [myotis4, myotis4b]] }
];

// interleave the two halves of a chain into [iteration, value] pairs
function traceRows(even, odd) {
  const rows = [];
  even.forEach((v, k) => {
    rows.push([k * iterStep, v]);
    if (k < odd.length) rows.push([k * iterStep + iterStep / 2, odd[k]]);
  });
  return rows;
}

const colLeft = [74, 630];
const rowTop = [48, 345, 641];
const gridW = 455, gridH = 148;

function fmtTick(v, digits) {
  const s = digits ? Number(v).toFixed(digits) : String(v);
  return s.replace('-', '\u2212');
}

const grids = [], xAxes = [], yAxes = [], titles = [], series = [];

panels.forEach((p, i) => {
  const col = i % 2, row = Math.floor(i / 2);
  const left = colLeft[col], top = rowTop[row];
  grids.push({ left: left, top: top, width: gridW, height: gridH, containLabel: false });

  titles.push({
    text: p.name,
    left: left + gridW / 2,
    top: top - 39,
    textAlign: 'center',
    padding: 0,
    textStyle: { fontFamily: fontFamily, fontSize: 29, fontWeight: 'normal', color: '#1a1a1a' }
  });

  xAxes.push({
    type: 'value', gridIndex: i, min: -50, max: 1050,
    axisLine: { show: true, onZero: false, lineStyle: { color: '#000', width: 1.6 } },
    axisTick: { show: true, length: 6, customValues: xTicks, lineStyle: { color: '#333', width: 1.4 } },
    axisLabel: {
      customValues: xTicks, margin: 9, color: '#4d4d4d', fontFamily: fontFamily, fontSize: 26,
      interval: 0, showMinLabel: true, showMaxLabel: true, hideOverlap: false,
      formatter: (v) => String(v)
    },
    splitLine: { show: false }
  });

  yAxes.push({
    type: 'value', gridIndex: i, min: p.min, max: p.max,
    axisLine: { show: true, onZero: false, lineStyle: { color: '#000', width: 1.6 } },
    axisTick: { show: true, length: 6, interval: 0, customValues: p.ticks, lineStyle: { color: '#333', width: 1.4 } },
    axisLabel: {
      customValues: p.ticks, margin: 13, color: '#4d4d4d', fontFamily: fontFamily, fontSize: p.labelSize,
      lineHeight: 18, interval: 0, showMinLabel: true, showMaxLabel: true, hideOverlap: false,
      formatter: (v) => fmtTick(v, p.digits)
    },
    splitLine: { show: false }
  });

  p.chains.forEach((halves, c) => {
    series.push({
      name: chainNames[c],
      type: 'line',
      xAxisIndex: i, yAxisIndex: i,
      data: traceRows(halves[0], halves[1]),
      showSymbol: false,
      symbol: 'none',
      color: chainColors[c],
      lineStyle: { color: chainColors[c], width: 2.2 },
      z: 2 + c,
      silent: true
    });
  });
});

titles.push({
  text: 'Chain', left: 1133, top: 307, padding: 0,
  textStyle: { fontFamily: fontFamily, fontSize: 30, fontWeight: 'normal', color: '#000' }
});

const chart = echarts.init(document.getElementById('chart'), null, { renderer: 'canvas' });
chart.setOption({
  animation: false,
  backgroundColor: '#ffffff',
  title: titles,
  grid: grids,
  xAxis: xAxes,
  yAxis: yAxes,
  legend: {
    data: chainNames,
    orient: 'vertical',
    left: 1134,
    top: 354,
    icon: 'rect',
    itemWidth: 37,
    itemHeight: 2.5,
    itemGap: 16,
    selectedMode: false,
    textStyle: { fontFamily: fontFamily, fontSize: 27, color: '#000', lineHeight: 30, padding: [0, 0, 0, 16] }
  },
  series: series
});
</script>
</body>
</html>
